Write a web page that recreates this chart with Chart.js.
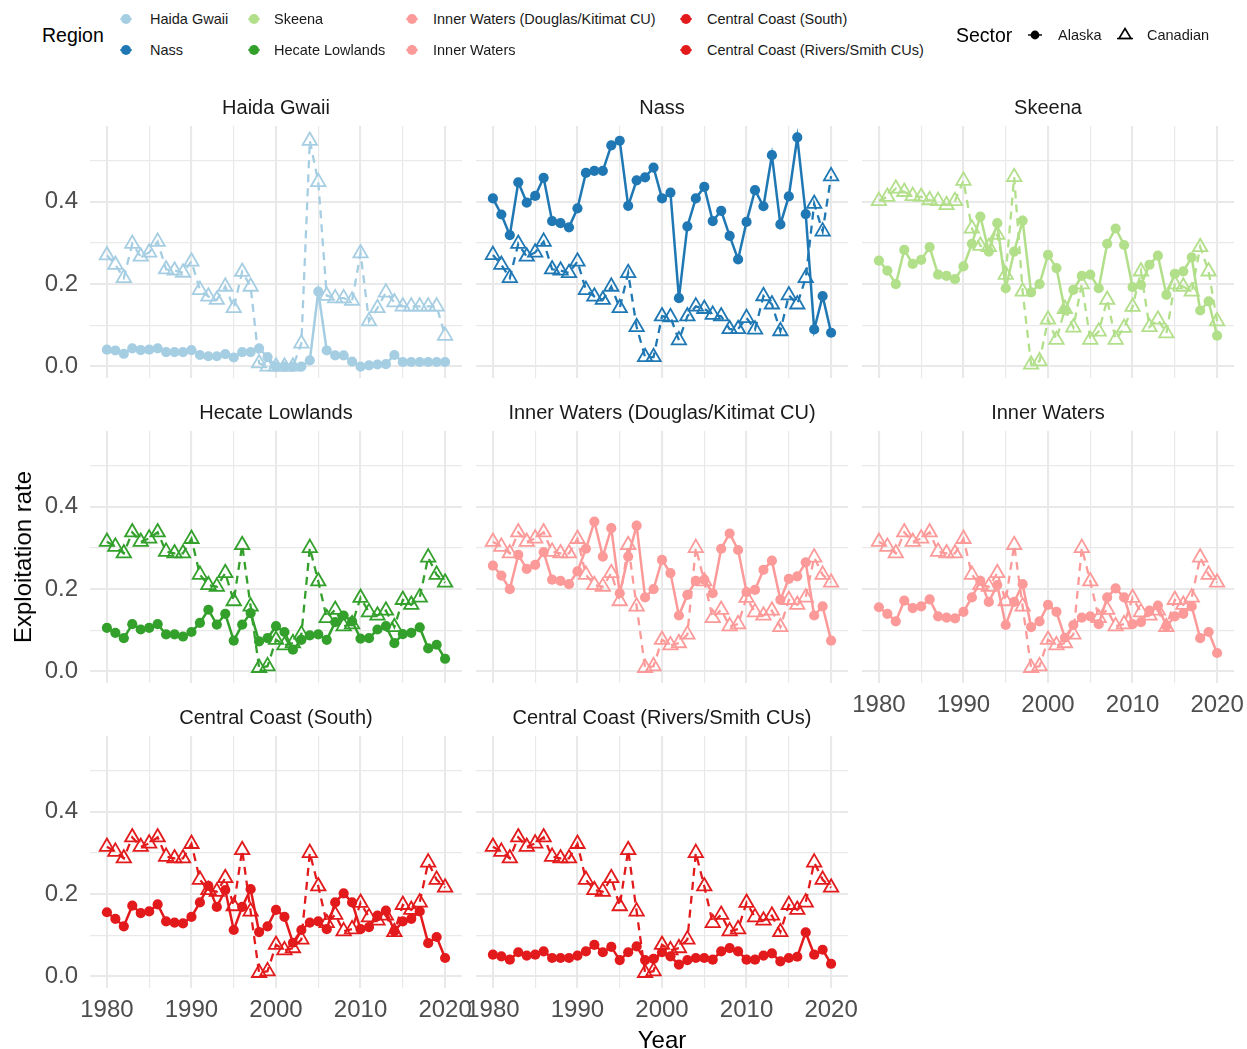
<!DOCTYPE html>
<html>
<head>
<meta charset="utf-8">
<title>Exploitation rate by region and sector</title>
<script src="https://cdn.jsdelivr.net/npm/chart.js@4.4.1/dist/chart.umd.min.js"></script>
<style>
  html, body { margin: 0; padding: 0; background: #ffffff; }
  #page {
    position: relative; width: 1247px; height: 1049px; overflow: hidden;
    font-family: "Liberation Sans", Arial, Helvetica, sans-serif; background: #ffffff;
  }
  #page canvas { position: absolute; }
  .txt { position: absolute; white-space: nowrap; line-height: 1; }
  .strip { font-size: 20px; color: #1a1a1a; transform: translate(-50%, -50%); }
  .axis-title { font-size: 24px; color: #000000; }
  .leg-title { font-size: 19.5px; color: #000000; transform: translateY(-50%); }
  .leg-item { font-size: 14.5px; color: #1a1a1a; transform: translateY(-50%); }
  .leg-key { position: absolute; transform: translate(-50%, -50%); }
</style>
</head>
<body>
<div id="page"></div>
<script>
// ---- data -----------------------------------------------------------------
const years = [1980, 1981, 1982, 1983, 1984, 1985, 1986, 1987, 1988, 1989,
               1990, 1991, 1992, 1993, 1994, 1995, 1996, 1997, 1998, 1999,
               2000, 2001, 2002, 2003, 2004, 2005, 2006, 2007, 2008, 2009,
               2010, 2011, 2012, 2013, 2014, 2015, 2016, 2017, 2018, 2019, 2020];

const xTickValues = [1980, 1985, 1990, 1995, 2000, 2005, 2010, 2015, 2020];
const xTickLabels = ['1980', '', '1990', '', '2000', '', '2010', '', '2020'];
const yTickValues = [0, 0.1, 0.2, 0.3, 0.4, 0.5];
const yTickLabels = ['0.0', '', '0.2', '', '0.4', ''];

const regions = ['Haida Gwaii', 'Nass', 'Skeena', 'Hecate Lowlands',
                 'Inner Waters (Douglas/Kitimat CU)', 'Inner Waters',
                 'Central Coast (South)', 'Central Coast (Rivers/Smith CUs)'];
const regionColors = ['#a6cee3', '#1f78b4', '#b2df8a', '#33a02c',
                      '#fb9a99', '#fb9a99', '#e31a1c', '#e31a1c'];
const sectors = ['Alaska', 'Canadian'];

// Alaska exploitation rates
const haidaAlaska = [0.041, 0.039, 0.031, 0.044, 0.040, 0.041, 0.044, 0.035, 0.035, 0.035,
                     0.040, 0.028, 0.025, 0.025, 0.030, 0.022, 0.035, 0.035, 0.044, 0.023,
                     0.000, 0.000, 0.000, 0.000, 0.015, 0.182, 0.039, 0.027, 0.027, 0.012,
                     0.000, 0.003, 0.005, 0.006, 0.028, 0.011, 0.011, 0.011, 0.011, 0.011, 0.011];
const nassAlaska = [0.408, 0.369, 0.319, 0.447, 0.398, 0.414, 0.458, 0.353, 0.348, 0.338,
                    0.384, 0.470, 0.475, 0.475, 0.537, 0.548, 0.390, 0.452, 0.459, 0.483,
                    0.408, 0.422, 0.166, 0.340, 0.408, 0.436, 0.353, 0.378, 0.317, 0.260,
                    0.351, 0.428, 0.389, 0.513, 0.345, 0.413, 0.556, 0.370, 0.090, 0.171, 0.082];
const skeenaAlaska = [0.257, 0.233, 0.200, 0.283, 0.249, 0.259, 0.290, 0.223, 0.220, 0.212,
                      0.243, 0.298, 0.364, 0.279, 0.348, 0.190, 0.279, 0.354, 0.180, 0.200,
                      0.271, 0.239, 0.136, 0.186, 0.220, 0.223, 0.190, 0.298, 0.335, 0.295,
                      0.193, 0.198, 0.247, 0.269, 0.174, 0.225, 0.231, 0.265, 0.136, 0.158, 0.075];
const hecateAlaska = [0.106, 0.094, 0.081, 0.115, 0.102, 0.106, 0.115, 0.090, 0.090, 0.085,
                      0.096, 0.118, 0.150, 0.114, 0.140, 0.075, 0.114, 0.142, 0.073, 0.081,
                      0.110, 0.096, 0.053, 0.077, 0.088, 0.090, 0.077, 0.120, 0.136, 0.122,
                      0.080, 0.081, 0.102, 0.110, 0.069, 0.091, 0.094, 0.107, 0.056, 0.065, 0.031];
const innerDKAlaska = skeenaAlaska;
const innerAlaska = [0.156, 0.140, 0.122, 0.172, 0.154, 0.158, 0.175, 0.134, 0.131, 0.129,
                     0.145, 0.180, 0.220, 0.169, 0.210, 0.113, 0.169, 0.212, 0.108, 0.122,
                     0.162, 0.145, 0.082, 0.113, 0.131, 0.134, 0.115, 0.180, 0.202, 0.180,
                     0.115, 0.120, 0.148, 0.160, 0.110, 0.134, 0.140, 0.158, 0.081, 0.096, 0.045];
const ccSouthAlaska = innerAlaska;
const ccRiversAlaska = [0.053, 0.049, 0.041, 0.059, 0.051, 0.053, 0.061, 0.045, 0.045, 0.045,
                        0.051, 0.061, 0.077, 0.059, 0.072, 0.040, 0.059, 0.073, 0.040, 0.043,
                        0.059, 0.049, 0.029, 0.040, 0.045, 0.045, 0.041, 0.061, 0.069, 0.061,
                        0.041, 0.041, 0.051, 0.056, 0.037, 0.045, 0.048, 0.107, 0.053, 0.065, 0.031];

// Canadian exploitation rates
const haidaCanadian = [0.270, 0.247, 0.215, 0.298, 0.267, 0.277, 0.303, 0.236, 0.233, 0.228,
                       0.255, 0.186, 0.170, 0.162, 0.194, 0.142, 0.230, 0.194, 0.008, 0.000,
                       0.000, 0.000, 0.000, 0.056, 0.548, 0.448, 0.172, 0.166, 0.166, 0.160,
                       0.275, 0.110, 0.142, 0.180, 0.156, 0.146, 0.146, 0.146, 0.146, 0.146, 0.075];
const nassCanadian = [0.271, 0.247, 0.215, 0.298, 0.267, 0.277, 0.303, 0.236, 0.233, 0.227,
                      0.255, 0.186, 0.170, 0.162, 0.194, 0.142, 0.227, 0.096, 0.023, 0.023,
                      0.122, 0.120, 0.064, 0.122, 0.146, 0.140, 0.126, 0.122, 0.091, 0.091,
                      0.118, 0.090, 0.171, 0.151, 0.086, 0.173, 0.151, 0.215, 0.395, 0.328, 0.462];
const skeenaCanadian = [0.402, 0.412, 0.432, 0.424, 0.414, 0.412, 0.404, 0.402, 0.392, 0.402,
                        0.451, 0.335, 0.293, 0.290, 0.320, 0.223, 0.460, 0.182, 0.005, 0.013,
                        0.114, 0.065, 0.140, 0.095, 0.200, 0.065, 0.085, 0.162, 0.065, 0.094,
                        0.145, 0.231, 0.096, 0.114, 0.081, 0.200, 0.194, 0.182, 0.290, 0.231, 0.110];
const southCanadian = [0.315, 0.303, 0.287, 0.338, 0.315, 0.323, 0.338, 0.291, 0.287, 0.287,
                       0.322, 0.235, 0.210, 0.206, 0.239, 0.171, 0.307, 0.158, 0.009, 0.013,
                       0.077, 0.064, 0.069, 0.090, 0.300, 0.219, 0.130, 0.150, 0.110, 0.115,
                       0.179, 0.144, 0.136, 0.148, 0.108, 0.174, 0.162, 0.180, 0.277, 0.235, 0.216];
const hecateCanadian = southCanadian;
const innerDKCanadian = southCanadian;
const innerCanadian = southCanadian;
const ccSouthCanadian = southCanadian;
const ccRiversCanadian = southCanadian;

// ---- layout ---------------------------------------------------------------
const page = document.getElementById('page');
const FONT = '"Liberation Sans", Arial, Helvetica, sans-serif';
const PLOT_W = 372, PLOT_H = 252;
const colLeft = [90, 476, 862];
const rowTop = [126, 431, 736];
const X_MIN = 1978, X_MAX = 2022, Y_MIN = -0.0278, Y_MAX = 0.5838;
const GRID = '#e9e9e9';

const panels = [
  { alaska: haidaAlaska,    canadian: haidaCanadian,    col: 0, row: 0, xLabels: false },
  { alaska: nassAlaska,     canadian: nassCanadian,     col: 1, row: 0, xLabels: false },
  { alaska: skeenaAlaska,   canadian: skeenaCanadian,   col: 2, row: 0, xLabels: false },
  { alaska: hecateAlaska,   canadian: hecateCanadian,   col: 0, row: 1, xLabels: false },
  { alaska: innerDKAlaska,  canadian: innerDKCanadian,  col: 1, row: 1, xLabels: false },
  { alaska: innerAlaska,    canadian: innerCanadian,    col: 2, row: 1, xLabels: true  },
  { alaska: ccSouthAlaska,  canadian: ccSouthCanadian,  col: 0, row: 2, xLabels: true  },
  { alaska: ccRiversAlaska, canadian: ccRiversCanadian, col: 1, row: 2, xLabels: true  }
];

function addText(cls, text, left, top, extraStyle) {
  const d = document.createElement('div');
  d.className = 'txt ' + cls;
  d.textContent = text;
  d.style.left = left + 'px';
  d.style.top = top + 'px';
  if (extraStyle) Object.assign(d.style, extraStyle);
  page.appendChild(d);
  return d;
}

function toPoints(values) {
  return years.map((yr, i) => ({ x: yr, y: values[i] }));
}

panels.forEach((p, idx) => {
  const color = regionColors[idx];
  const leftSpace = p.col === 0 ? 80 : 40;
  const rightSpace = 30, topSpace = 14;
  const bottomSpace = p.xLabels ? 50 : 14;
  const cw = leftSpace + PLOT_W + rightSpace;
  const ch = topSpace + PLOT_H + bottomSpace;

  const canvas = document.createElement('canvas');
  canvas.width = cw; canvas.height = ch;
  canvas.style.width = cw + 'px'; canvas.style.height = ch + 'px';
  canvas.style.left = (colLeft[p.col] - leftSpace) + 'px';
  canvas.style.top = (rowTop[p.row] - topSpace) + 'px';
  page.appendChild(canvas);

  new Chart(canvas.getContext('2d'), {
    type: 'line',
    data: {
      datasets: [
        {
          label: sectors[0],
          data: toPoints(p.alaska),
          borderColor: color, borderWidth: 2.5,
          pointStyle: 'circle', pointRadius: 5.1,
          pointBackgroundColor: color, pointBorderColor: color, pointBorderWidth: 0,
          tension: 0, clip: false, order: 0
        },
        {
          label: sectors[1],
          data: toPoints(p.canadian),
          borderColor: color, borderWidth: 2.3, borderDash: [8, 6],
          pointStyle: 'triangle', pointRadius: 8.3,
          pointBackgroundColor: 'rgba(255,255,255,0)', pointBorderColor: color, pointBorderWidth: 1.8,
          tension: 0, clip: false, order: 1
        }
      ]
    },
    options: {
      responsive: false,
      animation: false,
      events: [],
      layout: { padding: { left: 0, right: rightSpace, top: topSpace, bottom: 0 } },
      plugins: { legend: { display: false }, tooltip: { enabled: false }, title: { display: false } },
      scales: {
        x: {
          type: 'linear', min: X_MIN, max: X_MAX,
          border: { display: false },
          grid: {
            color: GRID, drawTicks: false,
            lineWidth: c => (c.tick && c.tick.value % 10 === 0 ? 2.1 : 1.2)
          },
          afterBuildTicks: s => { s.ticks = xTickValues.map(v => ({ value: v })); },
          afterFit: s => { s.height = bottomSpace; s.paddingLeft = 0; s.paddingRight = 0; },
          ticks: {
            display: p.xLabels, autoSkip: false, maxRotation: 0, padding: 8,
            color: '#4d4d4d', font: { family: FONT, size: 24 },
            callback: (v, i) => xTickLabels[i]
          }
        },
        y: {
          type: 'linear', min: Y_MIN, max: Y_MAX,
          border: { display: false },
          grid: {
            color: GRID, drawTicks: false,
            lineWidth: c => (c.tick && Math.round(c.tick.value * 10) % 2 === 0 ? 2.1 : 1.2)
          },
          afterBuildTicks: s => { s.ticks = yTickValues.map(v => ({ value: v })); },
          afterFit: s => { s.width = leftSpace; s.paddingTop = 0; s.paddingBottom = 0; },
          ticks: {
            display: p.col === 0, autoSkip: false, padding: 12,
            color: '#4d4d4d', font: { family: FONT, size: 24 },
            callback: (v, i) => yTickLabels[i]
          }
        }
      }
    }
  });

  // facet strip label
  addText('strip', regions[idx], colLeft[p.col] + PLOT_W / 2, rowTop[p.row] - 19.5);
});

// axis titles
addText('axis-title', 'Exploitation rate', 23, 557,
        { transform: 'translate(-50%, -50%) rotate(-90deg)' });
addText('axis-title', 'Year', 662, 1040, { transform: 'translate(-50%, -50%)' });

// ---- legends --------------------------------------------------------------
const svgNS = 'http://www.w3.org/2000/svg';
function addKey(cx, cy, draw) {
  const svg = document.createElementNS(svgNS, 'svg');
  svg.setAttribute('width', 22); svg.setAttribute('height', 18);
  svg.setAttribute('class', 'leg-key');
  svg.style.left = cx + 'px'; svg.style.top = cy + 'px';
  draw(svg);
  page.appendChild(svg);
}
function el(svg, tag, attrs) {
  const e = document.createElementNS(svgNS, tag);
  for (const k in attrs) e.setAttribute(k, attrs[k]);
  svg.appendChild(e);
}

addText('leg-title', 'Region', 42, 36);
const legendCols = [{ key: 126, text: 150 }, { key: 254, text: 274 },
                    { key: 412, text: 433 }, { key: 686, text: 707 }];
const legendRows = [19, 50];
regions.forEach((name, i) => {
  const c = legendCols[Math.floor(i / 2)];
  const y = legendRows[i % 2];
  const color = regionColors[i];
  addKey(c.key, y, svg => {
    el(svg, 'line', { x1: 5, x2: 17, y1: 9, y2: 9, stroke: color, 'stroke-width': 1.4 });
    el(svg, 'circle', { cx: 11, cy: 9, r: 5, fill: color });
  });
  addText('leg-item', name, c.text, y);
});

addText('leg-title', 'Sector', 956, 36);
addKey(1035, 35, svg => {
  el(svg, 'line', { x1: 4, x2: 18, y1: 9, y2: 9, stroke: '#000', 'stroke-width': 1.4 });
  el(svg, 'circle', { cx: 11, cy: 9, r: 4.4, fill: '#000' });
});
addText('leg-item', sectors[0], 1058, 35);
addKey(1125, 35, svg => {
  el(svg, 'line', { x1: 3, x2: 19, y1: 12.5, y2: 12.5, stroke: '#000', 'stroke-width': 1.4 });
  el(svg, 'polygon', { points: '11,2.5 17,12.5 5,12.5', fill: 'none', stroke: '#000', 'stroke-width': 1.6 });
});
addText('leg-item', sectors[1], 1147, 35);
</script>
</body>
</html>
